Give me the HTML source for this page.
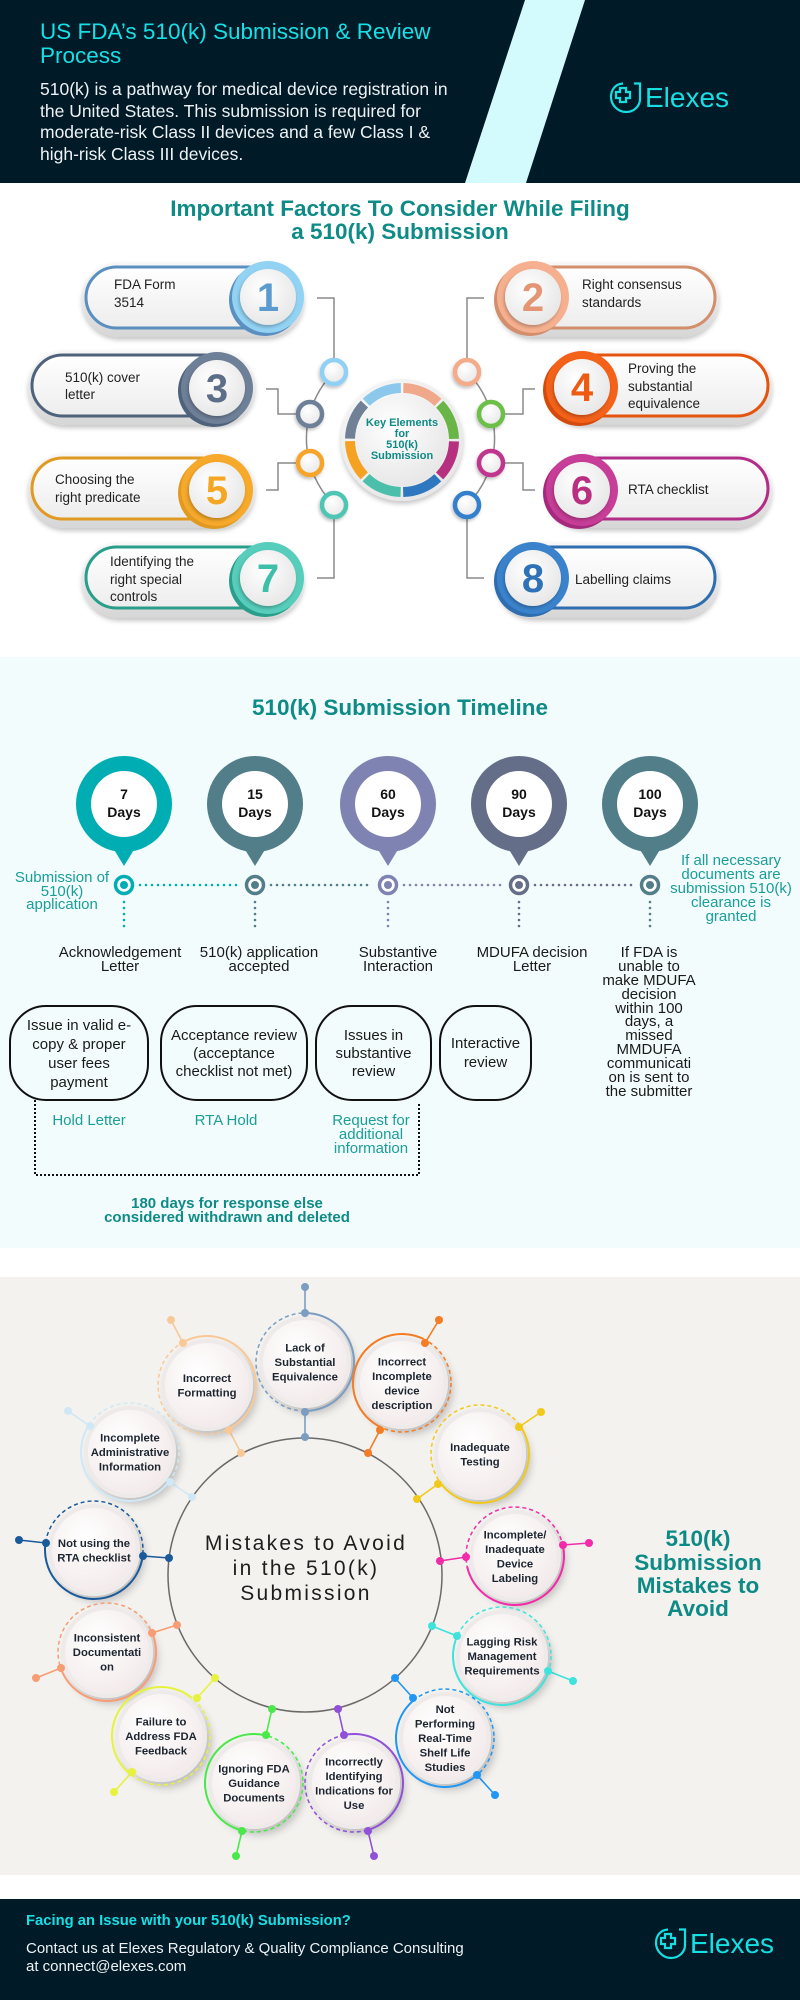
<!DOCTYPE html>
<html><head><meta charset="utf-8"><title>US FDA 510(k) Submission & Review Process</title>
<style>
html,body{margin:0;padding:0;background:#fff;}
body{width:800px;height:2000px;position:relative;overflow:hidden;font-family:"Liberation Sans",sans-serif;}
svg{position:absolute;left:0;top:0;display:block;}
</style></head>
<body>
<svg width="800" height="2000" viewBox="0 0 800 2000" xmlns="http://www.w3.org/2000/svg" font-family="'Liberation Sans', sans-serif">
<defs>
<linearGradient id="rim" x1="0" y1="0" x2="0" y2="1"><stop offset="0" stop-color="#f8f8f8"/><stop offset="1" stop-color="#d6d6d6"/></linearGradient>
<linearGradient id="body" x1="0" y1="0" x2="0" y2="1"><stop offset="0" stop-color="#ffffff"/><stop offset="1" stop-color="#ededed"/></linearGradient>
<radialGradient id="disc" cx="0.4" cy="0.35" r="0.7"><stop offset="0" stop-color="#ffffff"/><stop offset="1" stop-color="#e6e6e6"/></radialGradient>
<radialGradient id="pink" cx="0.4" cy="0.35" r="0.7"><stop offset="0" stop-color="#ffffff"/><stop offset="1" stop-color="#f3eaea"/></radialGradient>
<filter id="sh" x="-20%" y="-20%" width="140%" height="160%"><feDropShadow dx="0" dy="3" stdDeviation="2.5" flood-color="#000" flood-opacity="0.22"/></filter>
<filter id="sh2" x="-30%" y="-30%" width="170%" height="170%"><feDropShadow dx="5" dy="6" stdDeviation="4" flood-color="#000" flood-opacity="0.2"/></filter>
<filter id="sh3" x="-30%" y="-30%" width="160%" height="160%"><feDropShadow dx="-1" dy="2" stdDeviation="1.5" flood-color="#000" flood-opacity="0.25"/></filter>
</defs>

<!-- ============ HEADER ============ -->
<rect x="0" y="0" width="800" height="183" fill="#011a27"/>
<polygon points="525,0 585,0 526,183 465,183" fill="#d3fafc"/>
<text x="40" y="39" font-size="22.5" fill="#16e0e6">US FDA’s 510(k) Submission &amp; Review</text>
<text x="40" y="63" font-size="22.5" fill="#16e0e6">Process</text>
<g font-size="17.5" fill="#eef2f4">
<text x="40" y="95">510(k) is a pathway for medical device registration in</text>
<text x="40" y="117">the United States. This submission is required for</text>
<text x="40" y="138">moderate-risk Class II devices and a few Class I &amp;</text>
<text x="40" y="160">high-risk Class III devices.</text>
</g>
<g transform="translate(610,82)" stroke="#16dfe3" stroke-width="2.2" fill="none">
<path d="M13 1.5 C5 2 1 8 1 15 C1 23 8 30 16 30 C24 30 30 24 30 17 V1.5 H24"/>
<path d="M10 6 H16 V10 H20 V16 H16 V20 H10 V16 H6 V10 H10 Z"/>
</g>
<text x="645" y="107" font-size="28" fill="#16dfe3">Elexes</text>

<!-- ============ SECTION 2 ============ -->
<g font-size="22.5" font-weight="bold" fill="#0e8b86" text-anchor="middle">
<text x="400" y="216">Important Factors To Consider While Filing</text>
<text x="400" y="239">a 510(k) Submission</text>
</g>

<!-- connectors -->
<g stroke="#8a8a8a" stroke-width="1.5" fill="none">
<path d="M317,298 H334 V358"/>
<path d="M266,389 H278 V414 H296"/>
<path d="M266,490 H278 V463 H296"/>
<path d="M317,578 H334 V519"/>
<path d="M484,298 H467 V358"/>
<path d="M535,389 H523 V414 H505"/>
<path d="M535,490 H523 V463 H505"/>
<path d="M484,578 H467 V519"/>
<path d="M334,372 A94,94 0 0,0 334,505"/>
<path d="M467,372 A94,94 0 0,1 467,505"/>
</g>

<!-- small rings -->
<g stroke-width="4.5" fill="url(#disc)" filter="url(#sh3)">
<circle cx="334" cy="372" r="12" stroke="#8fd0f3"/>
<circle cx="310" cy="414" r="12" stroke="#6e8098"/>
<circle cx="310" cy="463" r="12" stroke="#f6a52a"/>
<circle cx="334" cy="505" r="12" stroke="#4fc6b3"/>
<circle cx="467" cy="372" r="12" stroke="#f3ab8a"/>
<circle cx="491" cy="414" r="12" stroke="#6cc04a"/>
<circle cx="491" cy="463" r="12" stroke="#c0358d"/>
<circle cx="467" cy="505" r="12" stroke="#3580cc"/>
</g>

<!-- center element -->
<circle cx="402" cy="440" r="61" fill="url(#disc)" filter="url(#sh)"/>
<g fill="none" stroke-width="10">
<circle cx="402" cy="440" r="52" stroke="#efa98a" stroke-dasharray="38.3 288.4" transform="rotate(-88.5 402 440)"/>
<circle cx="402" cy="440" r="52" stroke="#6ab547" stroke-dasharray="38.3 288.4" transform="rotate(-43.5 402 440)"/>
<circle cx="402" cy="440" r="52" stroke="#b5307e" stroke-dasharray="38.3 288.4" transform="rotate(1.5 402 440)"/>
<circle cx="402" cy="440" r="52" stroke="#2f78c0" stroke-dasharray="38.3 288.4" transform="rotate(46.5 402 440)"/>
<circle cx="402" cy="440" r="52" stroke="#4cbfab" stroke-dasharray="38.3 288.4" transform="rotate(91.5 402 440)"/>
<circle cx="402" cy="440" r="52" stroke="#f5a223" stroke-dasharray="38.3 288.4" transform="rotate(136.5 402 440)"/>
<circle cx="402" cy="440" r="52" stroke="#6f8097" stroke-dasharray="38.3 288.4" transform="rotate(181.5 402 440)"/>
<circle cx="402" cy="440" r="52" stroke="#8cc8ec" stroke-dasharray="38.3 288.4" transform="rotate(226.5 402 440)"/>
</g>
<circle cx="402" cy="440" r="46" fill="url(#disc)"/>
<g font-size="11" font-weight="bold" fill="#0e8b86" text-anchor="middle">
<text x="402" y="426">Key Elements</text>
<text x="402" y="437">for</text>
<text x="402" y="448">510(k)</text>
<text x="402" y="459">Submission</text>
</g>

<!-- pills -->
<rect x="82" y="262" width="222" height="75" rx="37.5" fill="url(#rim)" filter="url(#sh)"/>
<rect x="86" y="267" width="198" height="61" rx="30.5" fill="url(#body)" stroke="#5a8fbf" stroke-width="3"/>
<circle cx="265" cy="300" r="36" fill="#5a8fbf"/>
<circle cx="268" cy="297" r="36" fill="#92d2f3"/>
<circle cx="268" cy="297" r="28" fill="url(#disc)" filter="url(#sh3)"/>
<text x="268" y="311" font-size="40" font-weight="bold" fill="#5b9bd0" text-anchor="middle">1</text>

<rect x="496" y="262" width="223" height="75" rx="37.5" fill="url(#rim)" filter="url(#sh)"/>
<rect x="516" y="267" width="199" height="61" rx="30.5" fill="url(#body)" stroke="#d38e6c" stroke-width="3"/>
<circle cx="530" cy="300" r="36" fill="#d38e6c"/>
<circle cx="533" cy="297" r="36" fill="#f6b08f"/>
<circle cx="533" cy="297" r="28" fill="url(#disc)" filter="url(#sh3)"/>
<text x="533" y="311" font-size="40" font-weight="bold" fill="#e39574" text-anchor="middle">2</text>

<rect x="28" y="350" width="227" height="75" rx="37.5" fill="url(#rim)" filter="url(#sh)"/>
<rect x="32" y="355" width="203" height="61" rx="30.5" fill="url(#body)" stroke="#4f627b" stroke-width="3"/>
<circle cx="214" cy="391" r="36" fill="#4f627b"/>
<circle cx="217" cy="388" r="36" fill="#6e8098"/>
<circle cx="217" cy="388" r="28" fill="url(#disc)" filter="url(#sh3)"/>
<text x="217" y="402" font-size="40" font-weight="bold" fill="#5d6f88" text-anchor="middle">3</text>

<rect x="546" y="350" width="226" height="75" rx="37.5" fill="url(#rim)" filter="url(#sh)"/>
<rect x="566" y="355" width="202" height="61" rx="30.5" fill="url(#body)" stroke="#e5540f" stroke-width="3"/>
<circle cx="579" cy="390" r="36" fill="#d44a0c"/>
<circle cx="582" cy="387" r="36" fill="#f4621a"/>
<circle cx="582" cy="387" r="28" fill="url(#disc)" filter="url(#sh3)"/>
<text x="582" y="401" font-size="40" font-weight="bold" fill="#ef5a12" text-anchor="middle">4</text>

<rect x="28" y="453" width="227" height="75" rx="37.5" fill="url(#rim)" filter="url(#sh)"/>
<rect x="32" y="458" width="203" height="61" rx="30.5" fill="url(#body)" stroke="#e09a22" stroke-width="3"/>
<circle cx="214" cy="493" r="36" fill="#e09a22"/>
<circle cx="217" cy="490" r="36" fill="#f6a92a"/>
<circle cx="217" cy="490" r="28" fill="url(#disc)" filter="url(#sh3)"/>
<text x="217" y="504" font-size="40" font-weight="bold" fill="#f5a623" text-anchor="middle">5</text>

<rect x="546" y="453" width="226" height="75" rx="37.5" fill="url(#rim)" filter="url(#sh)"/>
<rect x="566" y="458" width="202" height="61" rx="30.5" fill="url(#body)" stroke="#b12d87" stroke-width="3"/>
<circle cx="579" cy="493" r="36" fill="#a32a7c"/>
<circle cx="582" cy="490" r="36" fill="#c73d97"/>
<circle cx="582" cy="490" r="28" fill="url(#disc)" filter="url(#sh3)"/>
<text x="582" y="504" font-size="40" font-weight="bold" fill="#b8307f" text-anchor="middle">6</text>

<rect x="82" y="542" width="222" height="76" rx="38" fill="url(#rim)" filter="url(#sh)"/>
<rect x="86" y="547" width="198" height="61" rx="30.5" fill="url(#body)" stroke="#2a9e8b" stroke-width="3"/>
<circle cx="265" cy="581" r="36" fill="#2a9e8b"/>
<circle cx="268" cy="578" r="36" fill="#57cdbb"/>
<circle cx="268" cy="578" r="28" fill="url(#disc)" filter="url(#sh3)"/>
<text x="268" y="592" font-size="40" font-weight="bold" fill="#3dbfa9" text-anchor="middle">7</text>

<rect x="496" y="542" width="223" height="76" rx="38" fill="url(#rim)" filter="url(#sh)"/>
<rect x="516" y="547" width="199" height="61" rx="30.5" fill="url(#body)" stroke="#2d6db0" stroke-width="3"/>
<circle cx="530" cy="581" r="36" fill="#2d6db0"/>
<circle cx="533" cy="578" r="36" fill="#3a83cc"/>
<circle cx="533" cy="578" r="28" fill="url(#disc)" filter="url(#sh3)"/>
<text x="533" y="592" font-size="40" font-weight="bold" fill="#2f72b8" text-anchor="middle">8</text>

<g font-size="13.5" fill="#222">
<text x="114" y="289">FDA Form</text><text x="114" y="307">3514</text>
<text x="582" y="289">Right consensus</text><text x="582" y="307">standards</text>
<text x="65" y="382">510(k) cover</text><text x="65" y="399">letter</text>
<text x="628" y="373">Proving the</text><text x="628" y="391">substantial</text><text x="628" y="408">equivalence</text>
<text x="55" y="484">Choosing the</text><text x="55" y="502">right predicate</text>
<text x="628" y="494">RTA checklist</text>
<text x="110" y="566">Identifying the</text><text x="110" y="584">right special</text><text x="110" y="601">controls</text>
<text x="575" y="584">Labelling claims</text>
</g>

<!-- ============ TIMELINE ============ -->
<rect x="0" y="657" width="800" height="591" fill="#f3fcfd"/>
<text x="400" y="715" font-size="22.5" font-weight="bold" fill="#0e8b86" text-anchor="middle">510(k) Submission Timeline</text>

<g>
<circle cx="124" cy="804" r="48" fill="#00adb3"/><polygon points="110,843 138,843 124,866" fill="#00adb3"/><circle cx="124" cy="804" r="33" fill="#fff"/>
<circle cx="255" cy="804" r="48" fill="#527e8a"/><polygon points="241,843 269,843 255,866" fill="#527e8a"/><circle cx="255" cy="804" r="33" fill="#fff"/>
<circle cx="388" cy="804" r="48" fill="#7f83b2"/><polygon points="374,843 402,843 388,866" fill="#7f83b2"/><circle cx="388" cy="804" r="33" fill="#fff"/>
<circle cx="519" cy="804" r="48" fill="#646e88"/><polygon points="505,843 533,843 519,866" fill="#646e88"/><circle cx="519" cy="804" r="33" fill="#fff"/>
<circle cx="650" cy="804" r="48" fill="#527e8a"/><polygon points="636,843 664,843 650,866" fill="#527e8a"/><circle cx="650" cy="804" r="33" fill="#fff"/>
</g>
<g font-size="14" font-weight="bold" fill="#111" text-anchor="middle">
<text x="124" y="799">7</text><text x="124" y="817">Days</text>
<text x="255" y="799">15</text><text x="255" y="817">Days</text>
<text x="388" y="799">60</text><text x="388" y="817">Days</text>
<text x="519" y="799">90</text><text x="519" y="817">Days</text>
<text x="650" y="799">100</text><text x="650" y="817">Days</text>
</g>
<g stroke-width="2.6" stroke-linecap="round" stroke-dasharray="0 6" fill="none">
<line x1="140" y1="885" x2="240" y2="885" stroke="#00adb3"/>
<line x1="271" y1="885" x2="373" y2="885" stroke="#527e8a"/>
<line x1="404" y1="885" x2="504" y2="885" stroke="#7f83b2"/>
<line x1="535" y1="885" x2="635" y2="885" stroke="#646e88"/>
<line x1="124" y1="902" x2="124" y2="932" stroke="#00adb3"/>
<line x1="255" y1="902" x2="255" y2="932" stroke="#527e8a"/>
<line x1="388" y1="902" x2="388" y2="932" stroke="#7f83b2"/>
<line x1="519" y1="902" x2="519" y2="932" stroke="#646e88"/>
<line x1="650" y1="902" x2="650" y2="932" stroke="#527e8a"/>
</g>
<g stroke-width="3.5" fill="#fff">
<circle cx="124" cy="885" r="8.5" stroke="#00adb3"/><circle cx="124" cy="885" r="4" fill="#00adb3" stroke="none"/>
<circle cx="255" cy="885" r="8.5" stroke="#527e8a"/><circle cx="255" cy="885" r="4" fill="#527e8a" stroke="none"/>
<circle cx="388" cy="885" r="8.5" stroke="#7f83b2"/><circle cx="388" cy="885" r="4" fill="#7f83b2" stroke="none"/>
<circle cx="519" cy="885" r="8.5" stroke="#646e88"/><circle cx="519" cy="885" r="4" fill="#646e88" stroke="none"/>
<circle cx="650" cy="885" r="8.5" stroke="#527e8a"/><circle cx="650" cy="885" r="4" fill="#527e8a" stroke="none"/>
</g>

<g font-size="15" fill="#1a9e98" text-anchor="middle">
<text x="62" y="882">Submission of</text><text x="62" y="896">510(k)</text><text x="62" y="909">application</text>
<text x="731" y="865">If all necessary</text><text x="731" y="879">documents are</text><text x="731" y="893">submission 510(k)</text><text x="731" y="907">clearance is</text><text x="731" y="921">granted</text>
<text x="89" y="1125">Hold Letter</text>
<text x="226" y="1125">RTA Hold</text>
<text x="371" y="1125">Request for</text><text x="371" y="1139">additional</text><text x="371" y="1153">information</text>
</g>

<g font-size="15" fill="#1a1a1a" text-anchor="middle">
<text x="120" y="957">Acknowledgement</text><text x="120" y="971">Letter</text>
<text x="259" y="957">510(k) application</text><text x="259" y="971">accepted</text>
<text x="398" y="957">Substantive</text><text x="398" y="971">Interaction</text>
<text x="532" y="957">MDUFA decision</text><text x="532" y="971">Letter</text>
<text x="649" y="957">If FDA is</text>
<text x="649" y="971">unable to</text>
<text x="649" y="985">make MDUFA</text>
<text x="649" y="999">decision</text>
<text x="649" y="1013">within 100</text>
<text x="649" y="1026">days, a</text>
<text x="649" y="1040">missed</text>
<text x="649" y="1054">MMDUFA</text>
<text x="649" y="1068">communicati</text>
<text x="649" y="1082">on is sent to</text>
<text x="649" y="1096">the submitter</text>
</g>

<g fill="none" stroke="#111" stroke-width="2">
<rect x="10" y="1006" width="138" height="94" rx="36"/>
<rect x="161" y="1006" width="146" height="94" rx="36"/>
<rect x="316" y="1006" width="115" height="94" rx="36"/>
<rect x="440" y="1006" width="91" height="94" rx="36"/>
</g>
<g font-size="15" fill="#1a1a1a" text-anchor="middle">
<text x="79" y="1030">Issue in valid e-</text><text x="79" y="1049">copy &amp; proper</text><text x="79" y="1068">user fees</text><text x="79" y="1087">payment</text>
<text x="234" y="1040">Acceptance review</text><text x="234" y="1058">(acceptance</text><text x="234" y="1076">checklist not met)</text>
<text x="373.5" y="1040">Issues in</text><text x="373.5" y="1058">substantive</text><text x="373.5" y="1076">review</text>
<text x="485.5" y="1048">Interactive</text><text x="485.5" y="1067">review</text>
</g>
<path d="M35,1100 V1175 H419 V1103" fill="none" stroke="#111" stroke-width="2" stroke-dasharray="2 2"/>
<g font-size="15" font-weight="bold" fill="#0e8b86" text-anchor="middle">
<text x="227" y="1208">180 days for response else</text>
<text x="227" y="1222">considered withdrawn and deleted</text>
</g>

<!-- ============ MISTAKES ============ -->
<rect x="0" y="1277" width="800" height="598" fill="#f3f2ef"/>
<circle cx="305" cy="1575" r="137" fill="none" stroke="#6a6a6a" stroke-width="1.5"/>

<g stroke-width="1.6">
<line x1="305" y1="1287" x2="305" y2="1313" stroke="#7c9dc2"/><line x1="305" y1="1412" x2="305" y2="1437" stroke="#7c9dc2"/>
<line x1="171" y1="1320" x2="183" y2="1343" stroke="#f9c897"/><line x1="229" y1="1430" x2="241" y2="1453" stroke="#f9c897"/>
<line x1="439" y1="1320" x2="425" y2="1343" stroke="#f47c25"/><line x1="380" y1="1430" x2="368" y2="1453" stroke="#f47c25"/>
<line x1="68" y1="1411" x2="90" y2="1426" stroke="#cfe8f6"/><line x1="170" y1="1482" x2="192" y2="1497" stroke="#cfe8f6"/>
<line x1="541" y1="1412" x2="519" y2="1427" stroke="#f1c91a"/><line x1="438" y1="1484" x2="417" y2="1499" stroke="#f1c91a"/>
<line x1="589" y1="1543" x2="563" y2="1545" stroke="#f22ba9"/><line x1="466" y1="1557" x2="440" y2="1561" stroke="#f22ba9"/>
<line x1="432" y1="1626" x2="457" y2="1636" stroke="#3fe3dc"/><line x1="548" y1="1671" x2="573" y2="1681" stroke="#3fe3dc"/>
<line x1="395" y1="1678" x2="413" y2="1698" stroke="#2196f3"/><line x1="477" y1="1775" x2="495" y2="1795" stroke="#2196f3"/>
<line x1="19" y1="1540" x2="46" y2="1543" stroke="#1b5a9a"/><line x1="143" y1="1556" x2="169" y2="1558" stroke="#1b5a9a"/>
<line x1="177" y1="1625" x2="152" y2="1633" stroke="#f89c74"/><line x1="61" y1="1668" x2="36" y2="1678" stroke="#f89c74"/>
<line x1="215" y1="1678" x2="197" y2="1698" stroke="#e6f23e"/><line x1="132" y1="1772" x2="114" y2="1792" stroke="#e6f23e"/>
<line x1="272" y1="1709" x2="266" y2="1735" stroke="#4ae84a"/><line x1="242" y1="1831" x2="236" y2="1856" stroke="#4ae84a"/>
<line x1="338" y1="1709" x2="344" y2="1735" stroke="#9050d8"/><line x1="368" y1="1831" x2="374" y2="1856" stroke="#9050d8"/>
</g>

<g>
<circle cx="305" cy="1362" r="46" fill="#efeaea" filter="url(#sh2)"/><circle cx="305" cy="1362" r="42" fill="url(#pink)"/>
<circle cx="207" cy="1385" r="46" fill="#efeaea" filter="url(#sh2)"/><circle cx="207" cy="1385" r="42" fill="url(#pink)"/>
<circle cx="402" cy="1383" r="46" fill="#efeaea" filter="url(#sh2)"/><circle cx="402" cy="1383" r="42" fill="url(#pink)"/>
<circle cx="130" cy="1452" r="46" fill="#efeaea" filter="url(#sh2)"/><circle cx="130" cy="1452" r="42" fill="url(#pink)"/>
<circle cx="480" cy="1454" r="46" fill="#efeaea" filter="url(#sh2)"/><circle cx="480" cy="1454" r="42" fill="url(#pink)"/>
<circle cx="515" cy="1556" r="46" fill="#efeaea" filter="url(#sh2)"/><circle cx="515" cy="1556" r="42" fill="url(#pink)"/>
<circle cx="502" cy="1656" r="46" fill="#efeaea" filter="url(#sh2)"/><circle cx="502" cy="1656" r="42" fill="url(#pink)"/>
<circle cx="445" cy="1738" r="46" fill="#efeaea" filter="url(#sh2)"/><circle cx="445" cy="1738" r="42" fill="url(#pink)"/>
<circle cx="94" cy="1550" r="46" fill="#efeaea" filter="url(#sh2)"/><circle cx="94" cy="1550" r="42" fill="url(#pink)"/>
<circle cx="107" cy="1652" r="46" fill="#efeaea" filter="url(#sh2)"/><circle cx="107" cy="1652" r="42" fill="url(#pink)"/>
<circle cx="161" cy="1736" r="46" fill="#efeaea" filter="url(#sh2)"/><circle cx="161" cy="1736" r="42" fill="url(#pink)"/>
<circle cx="254" cy="1783" r="46" fill="#efeaea" filter="url(#sh2)"/><circle cx="254" cy="1783" r="42" fill="url(#pink)"/>
<circle cx="354" cy="1783" r="46" fill="#efeaea" filter="url(#sh2)"/><circle cx="354" cy="1783" r="42" fill="url(#pink)"/>
</g>

<g fill="none" stroke-width="1.5" stroke-dasharray="4 3">
<circle cx="305" cy="1362" r="49" stroke="#7c9dc2"/>
<circle cx="207" cy="1385" r="49" stroke="#f9c897"/>
<circle cx="402" cy="1383" r="49" stroke="#f47c25"/>
<circle cx="130" cy="1452" r="49" stroke="#cfe8f6"/>
<circle cx="480" cy="1454" r="49" stroke="#f1c91a"/>
<circle cx="515" cy="1556" r="49" stroke="#f22ba9"/>
<circle cx="502" cy="1656" r="49" stroke="#3fe3dc"/>
<circle cx="445" cy="1738" r="49" stroke="#2196f3"/>
<circle cx="94" cy="1550" r="49" stroke="#1b5a9a"/>
<circle cx="107" cy="1652" r="49" stroke="#f89c74"/>
<circle cx="161" cy="1736" r="49" stroke="#e6f23e"/>
<circle cx="254" cy="1783" r="49" stroke="#4ae84a"/>
<circle cx="354" cy="1783" r="49" stroke="#9050d8"/>
</g>
<g fill="none" stroke-width="2" stroke-dasharray="154 154">
<circle cx="305" cy="1362" r="49" stroke="#7c9dc2" transform="rotate(-90 305 1362)"/>
<circle cx="207" cy="1385" r="49" stroke="#f9c897" transform="rotate(-120 207 1385)"/>
<circle cx="402" cy="1383" r="49" stroke="#f47c25" transform="rotate(115 402 1383)"/>
<circle cx="130" cy="1452" r="49" stroke="#cfe8f6" transform="rotate(37 130 1452)"/>
<circle cx="480" cy="1454" r="49" stroke="#f1c91a" transform="rotate(-35 480 1454)"/>
<circle cx="515" cy="1556" r="49" stroke="#f22ba9" transform="rotate(-13 515 1556)"/>
<circle cx="502" cy="1656" r="49" stroke="#3fe3dc" transform="rotate(18 502 1656)"/>
<circle cx="445" cy="1738" r="49" stroke="#2196f3" transform="rotate(49 445 1738)"/>
<circle cx="94" cy="1550" r="49" stroke="#1b5a9a" transform="rotate(7 94 1550)"/>
<circle cx="107" cy="1652" r="49" stroke="#f89c74" transform="rotate(-23 107 1652)"/>
<circle cx="161" cy="1736" r="49" stroke="#e6f23e" transform="rotate(129 161 1736)"/>
<circle cx="254" cy="1783" r="49" stroke="#4ae84a" transform="rotate(104 254 1783)"/>
<circle cx="354" cy="1783" r="49" stroke="#9050d8" transform="rotate(-102 354 1783)"/>
</g>
<g>
<g fill="#7c9dc2"><circle cx="305" cy="1287" r="4"/><circle cx="305" cy="1313" r="4"/><circle cx="305" cy="1412" r="4"/><circle cx="305" cy="1437" r="4"/></g>
<g fill="#f9c897"><circle cx="171" cy="1320" r="4"/><circle cx="183" cy="1343" r="4"/><circle cx="229" cy="1430" r="4"/><circle cx="241" cy="1453" r="4"/></g>
<g fill="#f47c25"><circle cx="439" cy="1320" r="4"/><circle cx="425" cy="1343" r="4"/><circle cx="380" cy="1430" r="4"/><circle cx="368" cy="1453" r="4"/></g>
<g fill="#cfe8f6"><circle cx="68" cy="1411" r="4"/><circle cx="90" cy="1426" r="4"/><circle cx="170" cy="1482" r="4"/><circle cx="192" cy="1497" r="4"/></g>
<g fill="#f1c91a"><circle cx="541" cy="1412" r="4"/><circle cx="519" cy="1427" r="4"/><circle cx="438" cy="1484" r="4"/><circle cx="417" cy="1499" r="4"/></g>
<g fill="#f22ba9"><circle cx="589" cy="1543" r="4"/><circle cx="563" cy="1545" r="4"/><circle cx="466" cy="1557" r="4"/><circle cx="440" cy="1561" r="4"/></g>
<g fill="#3fe3dc"><circle cx="432" cy="1626" r="4"/><circle cx="457" cy="1636" r="4"/><circle cx="548" cy="1671" r="4"/><circle cx="573" cy="1681" r="4"/></g>
<g fill="#2196f3"><circle cx="395" cy="1678" r="4"/><circle cx="413" cy="1698" r="4"/><circle cx="477" cy="1775" r="4"/><circle cx="495" cy="1795" r="4"/></g>
<g fill="#1b5a9a"><circle cx="19" cy="1540" r="4"/><circle cx="46" cy="1543" r="4"/><circle cx="143" cy="1556" r="4"/><circle cx="169" cy="1558" r="4"/></g>
<g fill="#f89c74"><circle cx="177" cy="1625" r="4"/><circle cx="152" cy="1633" r="4"/><circle cx="61" cy="1668" r="4"/><circle cx="36" cy="1678" r="4"/></g>
<g fill="#e6f23e"><circle cx="215" cy="1678" r="4"/><circle cx="197" cy="1698" r="4"/><circle cx="132" cy="1772" r="4"/><circle cx="114" cy="1792" r="4"/></g>
<g fill="#4ae84a"><circle cx="272" cy="1709" r="4"/><circle cx="266" cy="1735" r="4"/><circle cx="242" cy="1831" r="4"/><circle cx="236" cy="1856" r="4"/></g>
<g fill="#9050d8"><circle cx="338" cy="1709" r="4"/><circle cx="344" cy="1735" r="4"/><circle cx="368" cy="1831" r="4"/><circle cx="374" cy="1856" r="4"/></g>
</g>

<g font-size="11.3" font-weight="bold" fill="#1c2530" text-anchor="middle">
<text x="305" y="1351.5">Lack of</text><text x="305" y="1366">Substantial</text><text x="305" y="1380.5">Equivalence</text>
<text x="207" y="1381.75">Incorrect</text><text x="207" y="1396.25">Formatting</text>
<text x="402" y="1365.25">Incorrect</text><text x="402" y="1379.75">Incomplete</text><text x="402" y="1394.25">device</text><text x="402" y="1408.75">description</text>
<text x="130" y="1441.5">Incomplete</text><text x="130" y="1456">Administrative</text><text x="130" y="1470.5">Information</text>
<text x="480" y="1450.75">Inadequate</text><text x="480" y="1465.25">Testing</text>
<text x="515" y="1538.25">Incomplete/</text><text x="515" y="1552.75">Inadequate</text><text x="515" y="1567.25">Device</text><text x="515" y="1581.75">Labeling</text>
<text x="502" y="1645.5">Lagging Risk</text><text x="502" y="1660">Management</text><text x="502" y="1674.5">Requirements</text>
<text x="445" y="1713">Not</text><text x="445" y="1727.5">Performing</text><text x="445" y="1742">Real-Time</text><text x="445" y="1756.5">Shelf Life</text><text x="445" y="1771">Studies</text>
<text x="94" y="1546.75">Not using the</text><text x="94" y="1561.25">RTA checklist</text>
<text x="107" y="1641.5">Inconsistent</text><text x="107" y="1656">Documentati</text><text x="107" y="1670.5">on</text>
<text x="161" y="1725.5">Failure to</text><text x="161" y="1740">Address FDA</text><text x="161" y="1754.5">Feedback</text>
<text x="254" y="1772.5">Ignoring FDA</text><text x="254" y="1787">Guidance</text><text x="254" y="1801.5">Documents</text>
<text x="354" y="1765.25">Incorrectly</text><text x="354" y="1779.75">Identifying</text><text x="354" y="1794.25">Indications for</text><text x="354" y="1808.75">Use</text>
</g>

<g font-size="21" fill="#1e1e1e" text-anchor="middle" letter-spacing="2.3">
<text x="306" y="1550">Mistakes to Avoid</text>
<text x="306" y="1575">in the 510(k)</text>
<text x="306" y="1600">Submission</text>
</g>
<g font-size="22.5" font-weight="bold" fill="#0d8a85" text-anchor="middle">
<text x="698" y="1546">510(k)</text>
<text x="698" y="1570">Submission</text>
<text x="698" y="1593">Mistakes to</text>
<text x="698" y="1616">Avoid</text>
</g>

<!-- ============ FOOTER ============ -->
<rect x="0" y="1899" width="800" height="101" fill="#011a27"/>
<text x="26" y="1925" font-size="14.8" font-weight="bold" fill="#16e0e6">Facing an Issue with your 510(k) Submission?</text>
<text x="26" y="1953" font-size="15" fill="#eef2f4">Contact us at Elexes Regulatory &amp; Quality Compliance Consulting</text>
<text x="26" y="1971" font-size="15" fill="#eef2f4">at connect@elexes.com</text>
<g transform="translate(655,1928)" stroke="#16dfe3" stroke-width="2.2" fill="none">
<path d="M13 1.5 C5 2 1 8 1 15 C1 23 8 30 16 30 C24 30 30 24 30 17 V1.5 H24"/>
<path d="M10 6 H16 V10 H20 V16 H16 V20 H10 V16 H6 V10 H10 Z"/>
</g>
<text x="690" y="1953" font-size="28" fill="#16dfe3">Elexes</text>
</svg>
</body></html>
